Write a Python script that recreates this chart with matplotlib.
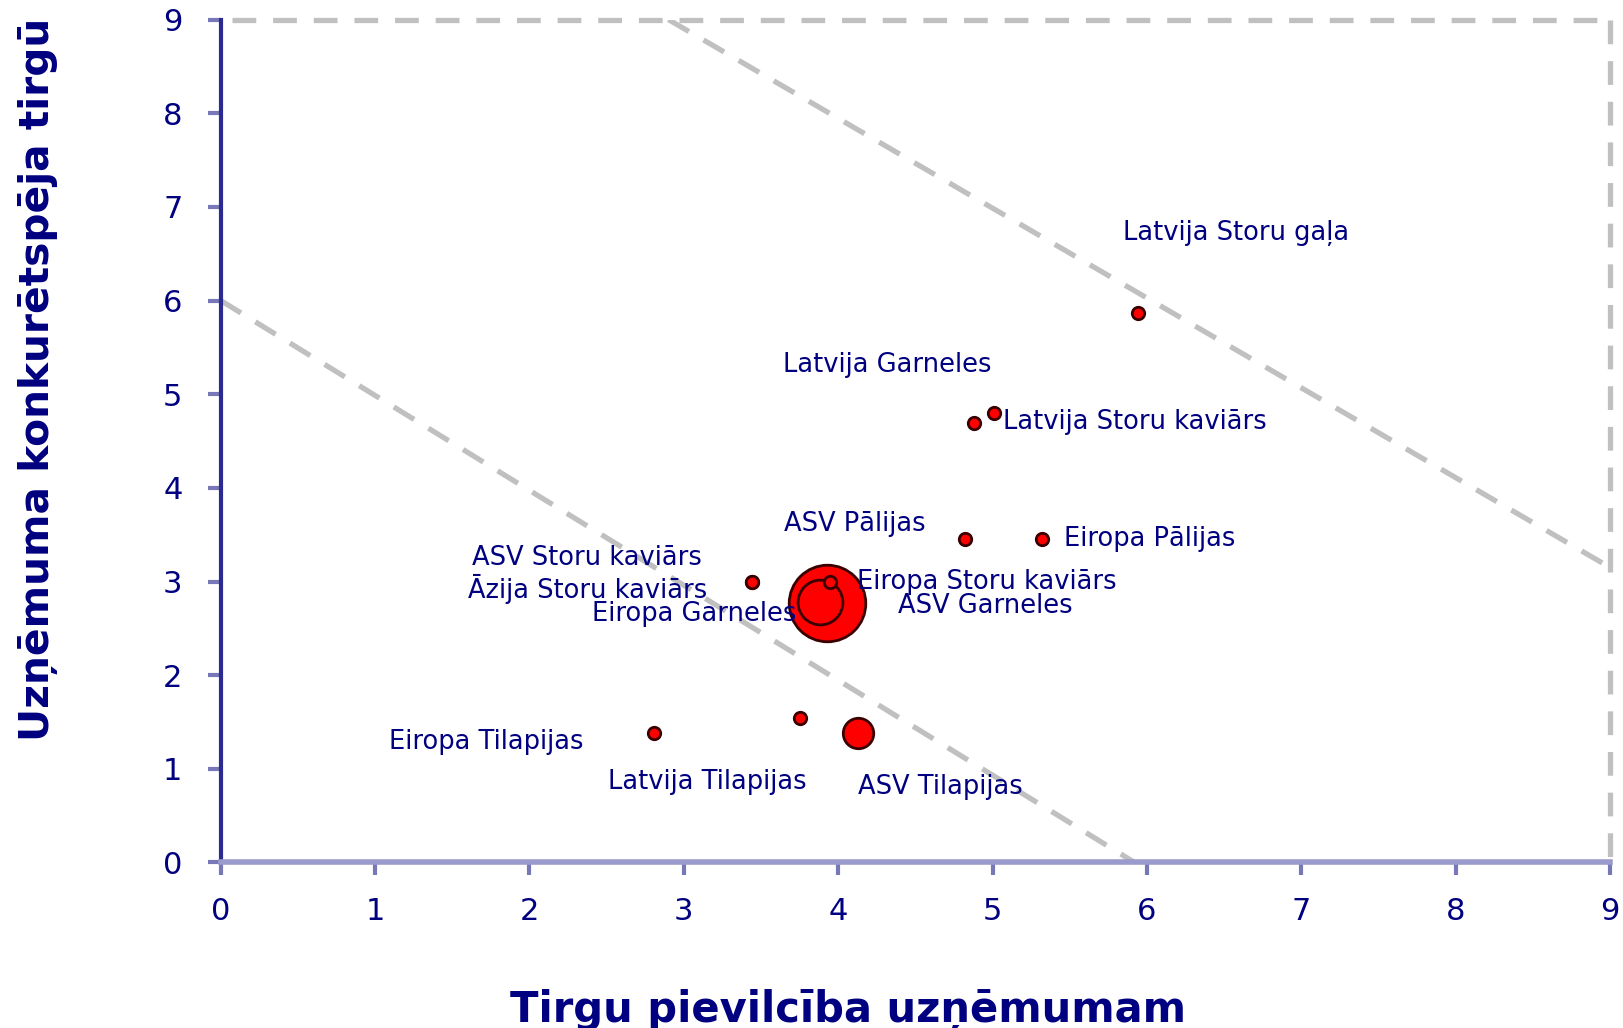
import numpy as np
import matplotlib.pyplot as plt

# bubble data: market attractiveness (x), competitiveness (y), relative bubble size
names = ['Latvija Storu gaļa', 'Latvija Garneles', 'Latvija Storu kaviārs',
         'ASV Pālijas', 'Eiropa Pālijas', 'ASV Storu kaviārs', 'Āzija Storu kaviārs',
         'ASV Garneles', 'Eiropa Garneles', 'Eiropa Storu kaviārs',
         'Eiropa Tilapijas', 'Latvija Tilapijas', 'ASV Tilapijas']
x_vals = [5.94, 4.88, 5.01, 4.82, 5.32, 3.44, 3.44, 3.93, 3.88, 3.95, 2.81, 3.75, 4.13]
y_vals = [5.87, 4.69, 4.80, 3.45, 3.45, 2.99, 2.99, 2.77, 2.78, 2.99, 1.38, 1.54, 1.38]
sizes = [1, 1, 1, 1, 1, 1, 1, 38, 13, 1, 1, 1, 6]

# label positions (data coords) and alignment
lab_x = [6.58, 4.32, 5.07, 4.11, 5.46, 2.37, 2.38, 4.95, 3.07, 4.12, 1.72, 3.15, 4.66]
lab_y = [6.72, 5.31, 4.70, 3.61, 3.45, 3.25, 2.92, 2.74, 2.65, 2.99, 1.29, 0.86, 0.81]
lab_ha = ['center', 'center', 'left', 'center', 'left', 'center', 'center',
          'center', 'center', 'left', 'center', 'center', 'center']

# dashed guide lines
low_line_x = [0, 5.92]
low_line_y = [6, 0]
high_line_x = [2.9, 9]
high_line_y = [9, 3.15]

navy = '#000080'
grey = '#c0c0c0'
dash = (4.5, 3.2)
dash_lw = 3.8

fig = plt.figure(figsize=(16.23, 10.28), dpi=100)
ax = fig.add_axes([0.136, 0.161, 0.856, 0.820])

ax.plot(low_line_x, low_line_y, color=grey, lw=dash_lw, dashes=dash, zorder=1)
ax.plot(high_line_x, high_line_y, color=grey, lw=dash_lw, dashes=dash, zorder=1)
ax.plot([0.07, 9], [9, 9], color=grey, lw=dash_lw, dashes=dash, clip_on=False, zorder=1)
ax.plot([9, 9], [9, 0], color=grey, lw=dash_lw, dashes=dash, clip_on=False, zorder=1)

order = np.argsort(sizes)[::-1]
for i in order:
    ax.scatter(x_vals[i], y_vals[i], s=sizes[i] * 80, color='#ff0000',
               edgecolor='#3a0000', linewidth=2, zorder=3)

for i in range(len(names)):
    ax.text(lab_x[i], lab_y[i], names[i], color=navy, fontsize=18.5,
            ha=lab_ha[i], va='center', zorder=4)

ax.set_xlim(0, 9)
ax.set_ylim(0, 9)
ax.set_xticks(range(10))
ax.set_yticks(range(10))
ax.tick_params(axis='both', colors='#7878b8', labelcolor=navy, labelsize=22,
               length=9.5, width=3, direction='out')
ax.tick_params(axis='y', pad=18)
ax.tick_params(axis='x', pad=15)

for s in ['top', 'right']:
    ax.spines[s].set_visible(False)
ax.spines['left'].set_color('#2a2a90')
ax.spines['left'].set_linewidth(3)
ax.spines['bottom'].set_color('#9a9acc')
ax.spines['bottom'].set_linewidth(4)

fig.text(0.5225, 0.006, 'Tirgu pievilcība uzņēmumam', color=navy, fontsize=30,
         fontweight='bold', ha='center', va='baseline')
fig.text(0.0235, 0.631, 'Uzņēmuma konkurētspēja tirgū', color=navy, fontsize=29.3,
         fontweight='bold', ha='center', va='center', rotation=90)

fig.savefig('out.png', dpi=100)
